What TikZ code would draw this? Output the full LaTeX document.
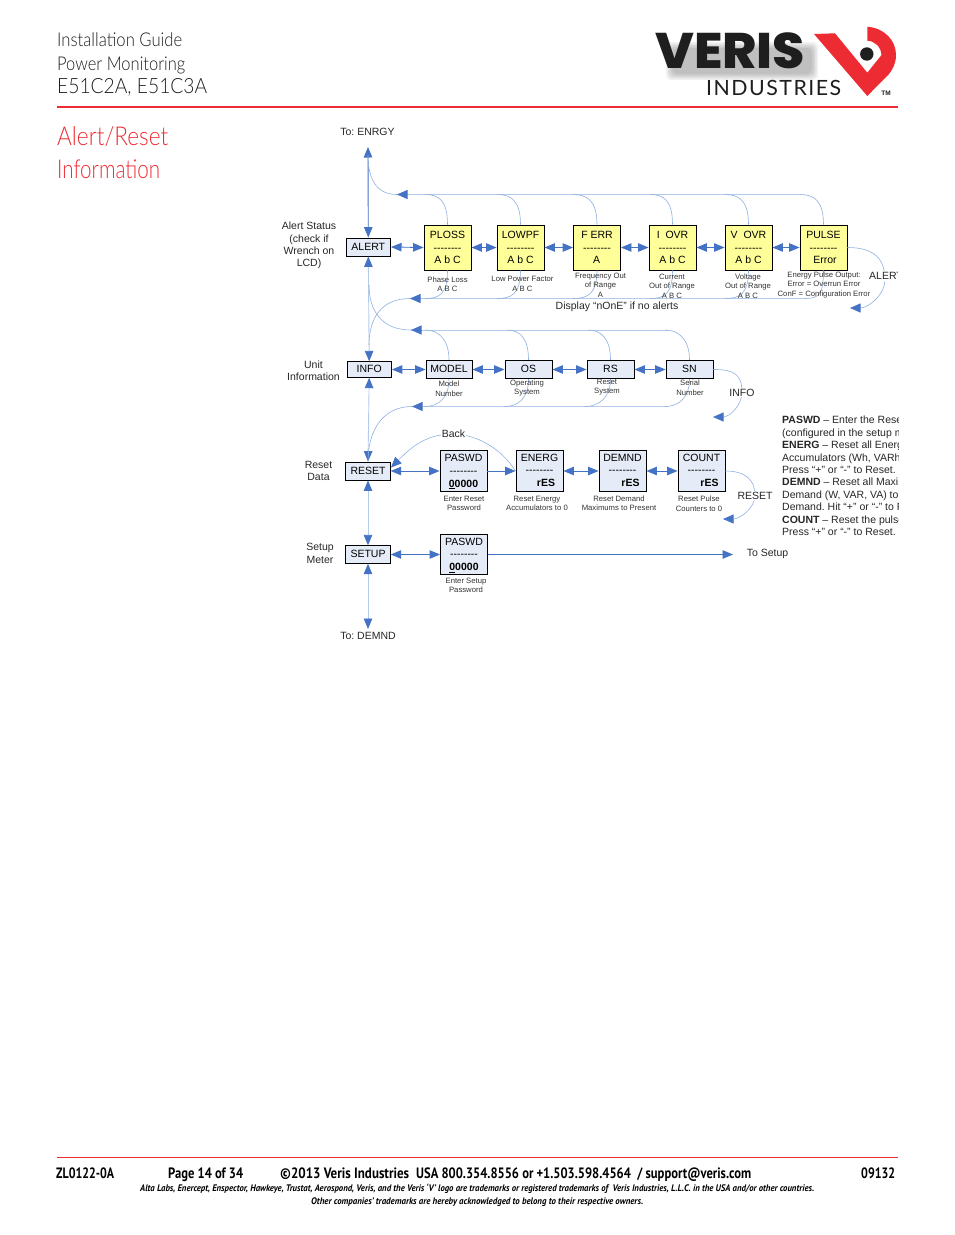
\documentclass[tikz,border=0pt]{standalone}
\usepackage{fontspec}
\usepackage{graphicx}
\usetikzlibrary{arrows.meta}
\setmainfont{Liberation Sans}[Ligatures=NoCommon]
\newfontfamily\hdr{Lato}[UprightFont=* Light]
\newfontfamily\logofont{Poppins}[UprightFont=* ExtraBold]
\newfontfamily\indfont{Lato}[LetterSpace=7]
\newfontfamily\footfont{PT Sans}[UprightFont=* Bold, ItalicFont=* Bold Italic]
\definecolor{vred}{HTML}{ED2B33}
\definecolor{vdark}{HTML}{1E1E1E}
\definecolor{vblue}{HTML}{4472C4}
\definecolor{vcurve}{HTML}{8FB0E0}
\definecolor{vlight}{HTML}{B4CBEC}
\definecolor{vyellow}{HTML}{FFFF99}
\definecolor{vbox}{HTML}{E6ECF7}
\newcommand\fitw[2]{\resizebox{#1pt}{\height}{#2}}
\newcommand\hyrow{-\kern0pt-\kern0pt-\kern0pt-\kern0pt-\kern0pt-\kern0pt-\kern0pt-}
\newcommand\upt[1]{\raisebox{1pt}{#1}}
\tikzset{
  big/.style={font=\fontsize{10.5}{12.3}\selectfont,inner sep=0pt,align=center,text=black!85},
  small/.style={font=\fontsize{7.7}{9.5}\selectfont,inner sep=0pt,align=center,text=black!80},
  onbg/.style={big,fill=white,inner sep=1pt},
  ybox/.style={draw=black,line width=0.9pt,fill=vyellow,inner sep=0pt,align=center,minimum width=47pt,minimum height=45pt,font=\fontsize{10.5}{12.5}\selectfont},
  bbox/.style={draw=black,line width=0.9pt,fill=vbox,inner sep=0pt,align=center,font=\fontsize{10.5}{12.7}\selectfont},
  tall/.style={bbox,minimum width=47pt,minimum height=40.5pt},
  flat/.style={bbox,minimum width=47pt,minimum height=18.5pt},
  left box/.style={bbox,minimum width=44.5pt,minimum height=18pt},
  dbl/.style={draw=vblue,line width=0.9pt,{Triangle[length=10.5pt,width=8.5pt,color=vblue]}-{Triangle[length=10.5pt,width=8.5pt,color=vblue]}},
  dbllight/.style={draw=vlight,line width=0.9pt,{Triangle[length=10.5pt,width=8.5pt,color=vblue]}-{Triangle[length=10.5pt,width=8.5pt,color=vblue]}},
  one/.style={draw=vblue,line width=0.9pt,-{Triangle[length=10.5pt,width=8.5pt,color=vblue]}},
  curve/.style={draw=vcurve,line width=0.6pt},
  railline/.style={draw=vlight,line width=0.8pt},
  railtip/.style={draw=vcurve,line width=0.6pt,-{Triangle[length=10.5pt,width=9pt,color=vblue]}},
  hd/.style={inner sep=0pt,anchor=base west,text=vdark},
  ttl/.style={inner sep=0pt,anchor=base west,text=vred},
  ft/.style={inner sep=0pt,anchor=base west,text=black}
}
\begin{document}
\frenchspacing
\begin{tikzpicture}[x=1pt,y=-1pt]
\useasboundingbox (0,0) rectangle (954,1235);

% ---- header
\node[hd,font=\hdr\fontsize{19}{19}\selectfont] (h1) at (57,46) {\fitw{125}{Installation Guide}};
\node[hd,font=\hdr\fontsize{19}{19}\selectfont] (h2) at (57,70) {\fitw{128}{Power Monitoring}};
\node[hd,font=\hdr\fontsize{21}{21}\selectfont] (h3) at (57,93) {\fitw{150}{E51C2A, E51C3A}};
\node[ttl,font=\hdr\fontsize{26}{26}\selectfont] (t1) at (57,145) {\fitw{111}{Alert/Reset}};
\node[ttl,font=\hdr\fontsize{26}{26}\selectfont] (t2) at (57,178) {\fitw{103}{Information}};
\coordinate (ruleAl) at (57,107); \coordinate (ruleAr) at (898,107);
\draw[vred,line width=1.3pt] (ruleAl) -- (ruleAr);

% ---- logo
\foreach \i in {0,1.5,3,4.5,6}{
  \fill[black,opacity=0.055,rounded corners=5pt] (672-\i,48-\i) rectangle (812+\i,74+\i);
}
\node[inner sep=0pt,anchor=base west,text=vdark,font=\logofont\fontsize{50}{50}\selectfont] (lg) at (655,68) {\fitw{150}{VERIS}};
\node[inner sep=0pt,anchor=base west,text=vdark,font=\indfont\fontsize{21}{21}\selectfont] (ind) at (706,95) {\fitw{135}{INDUSTRIES}};
\fill[vred] (814,34) -- (835,33.3) -- (867.3,72.7) -- (881.5,55)
  .. controls (881,47) and (875,41) .. (867.3,40.7) -- (867.3,26.7)
  .. controls (884,28) and (896,40) .. (896,55)
  .. controls (896,63) and (893,69) .. (889,74) -- (867.3,96) -- cycle;
\fill[vdark] (866.8,54) circle (6.7);
\node[inner sep=0pt,text=vdark,font=\fontsize{6.5}{6.5}\selectfont\bfseries] (tm) at (886,93.5) {TM};

% ---- boxes, first row
\node[left box] (alert) at (368.3,247) {ALERT};
\node[ybox] (ploss) at (447.5,247.5) {PLOSS\\\hyrow\\A b C};
\node[ybox] (lowpf) at (520.5,247.5) {LOWPF\\\hyrow\\A b C};
\node[ybox] (ferr) at (597,247.5) {F ERR\\\hyrow\\\hspace*{-1pt}A};
\node[ybox] (iovr) at (672.5,247.5) {I \ OVR\\\hyrow\\A b C};
\node[ybox] (vovr) at (748.5,247.5) {V \ OVR\\\hyrow\\A b C};
\node[ybox] (pulse) at (823.5,247.5) {PULSE\\\hyrow\\\hspace*{3pt}Error};
% second row
\node[left box,minimum height=15.5pt] (info) at (369.2,369.5) {\upt{INFO}};
\node[flat,minimum width=46pt] (model) at (449,369.5) {\upt{MODEL}};
\node[flat] (os) at (528.5,369.5) {\upt{OS}};
\node[flat] (rs) at (610.5,369.5) {\upt{RS}};
\node[flat] (sn) at (689.5,369.5) {\upt{SN}};
% third row
\node[left box] (reset) at (368,471) {\upt{RESET}};
\node[tall] (pasr) at (463.5,471) {\rule{0pt}{9pt}PASWD\\\hyrow\\\textbf{\underline{0}0000}};
\node[tall] (energ) at (539.5,471) {ENERG\\\hyrow\\\hspace*{13pt}\textbf{rES}\rule[-1.4pt]{0pt}{1pt}};
\node[tall] (demnd) at (622.5,471) {DEMND\\\hyrow\\\hspace*{16pt}\textbf{rES}\rule[-1.4pt]{0pt}{1pt}};
\node[tall] (count) at (701.5,471) {COUNT\\\hyrow\\\hspace*{16pt}\textbf{rES}\rule[-1.4pt]{0pt}{1pt}};
% fourth row
\node[left box,minimum height=17.5pt] (setup) at (368,554.5) {\upt{SETUP}};
\node[tall] (pass) at (464,554.5) {\rule{0pt}{9pt}PASWD\\\hyrow\\\textbf{\underline{0}0000}};

% ---- free ends
\coordinate (enrgy) at (368,147);
\coordinate (demndend) at (368,629);
\coordinate (tosetup) at (733,554.5);

% ---- straight links
\draw[dbl] (alert.north) -- (enrgy);
\draw[dbllight] (alert.south) -- (info.north);
\draw[dbllight] (info.south) -- (reset.north);
\draw[dbllight] (reset.south) -- (setup.north);
\draw[dbllight] (setup.south) -- (demndend);
\draw[dbl] (alert.east) -- (ploss.west);
\draw[dbl] (ploss.east) -- (lowpf.west);
\draw[dbl] (lowpf.east) -- (ferr.west);
\draw[dbl] (ferr.east) -- (iovr.west);
\draw[dbl] (iovr.east) -- (vovr.west);
\draw[dbl] (vovr.east) -- (pulse.west);
\draw[dbl] (info.east) -- (model.west);
\draw[dbl] (model.east) -- (os.west);
\draw[dbl] (os.east) -- (rs.west);
\draw[dbl] (rs.east) -- (sn.west);
\draw[dbl] (reset.east) -- (pasr.west);
\draw[one] (pasr.east) -- (energ.west);
\draw[dbl] (energ.east) -- (demnd.west);
\draw[dbl] (demnd.east) -- (count.west);
\draw[dbl] (setup.east) -- (pass.west);
\draw[one] (pass.east) -- (tosetup);

% ---- rails
\coordinate (railAtip) at (397,194.5); \coordinate (railAend) at (800,194.5);
\draw[railline] (railAend) -- (railAtip);
\draw[railtip] (407,194.5) -- (railAtip);
\draw[curve] (railAtip) .. controls +(-22,0) and +(0,22) .. (368,155);
\foreach \n/\x in {ploss/425,lowpf/497,ferr/573,iovr/650,vovr/725,pulse/800}{
  \coordinate (top\n) at (\x,194.5);
  \draw[curve] (\n.north) .. controls +(0,-24) and +(14,0) .. (top\n);
}
\coordinate (railBtip) at (410,298.5); \coordinate (railBend) at (805,298.5);
\draw[railline] (railBend) -- (railBtip);
\draw[railtip] (420,298.5) -- (railBtip);
\draw[curve] (railBtip) .. controls +(-30,0) and +(0,-25) .. (369,345);
\foreach \n/\x in {ploss/425,lowpf/497,ferr/573,iovr/650,vovr/725,pulse/805}{
  \coordinate (bot\n) at (\x,298.5);
  \draw[curve] (\n.south) .. controls +(0,24) and +(14,0) .. (bot\n);
}
\coordinate (railCtip) at (411,330); \coordinate (railCend) at (668,330);
\draw[railline] (railCend) -- (railCtip);
\draw[railtip] (421,330) -- (railCtip);
\draw[curve] (railCtip) .. controls +(-30,0) and +(0,25) .. (369,285);
\foreach \n/\x in {model/425,os/507,rs/588,sn/665}{
  \coordinate (tp\n) at (\x,330);
  \draw[curve] (\n.north) .. controls +(0,-20) and +(14,0) .. (tp\n);
}
\coordinate (railDtip) at (412,406.5); \coordinate (railDend) at (668,406.5);
\draw[railline] (railDend) -- (railDtip);
\draw[railtip] (422,406.5) -- (railDtip);
\draw[curve] (railDtip) .. controls +(-30,0) and +(0,-30) .. (reset.north);
\foreach \n/\x in {model/425,os/505,rs/585,sn/665}{
  \coordinate (bt\n) at (\x,406.5);
  \draw[curve] (\n.south) .. controls +(0,18) and +(14,0) .. (bt\n);
}

% ---- return curves
\coordinate (alertback) at (850,308);
\coordinate (infoback) at (713,417);
\coordinate (resetback) at (723,519);
\draw[railtip] (pulse.east) .. controls +(28,0) and +(0,-20) .. (885,280) .. controls +(0,15) and +(18,0) .. (alertback);
\draw[railtip] (sn.east) .. controls +(20,0) and +(0,-18) .. (742,392) .. controls +(0,14) and +(16,0) .. (infoback);
\draw[railtip] (count.east) .. controls +(20,0) and +(0,-15) .. (755,495) .. controls +(0,14) and +(16,0) .. (resetback);
\coordinate (backtop) at (452,434);
\coordinate (resetin) at (391,467.5);
\draw[curve] (energ.west) .. controls +(-14,-22) and +(25,0) .. (backtop);
\draw[railtip] (backtop) .. controls +(-28,0) and +(17,-17) .. (resetin);

% ---- labels
\node[big] (lA) at (367.5,131.5) {To: ENRGY};
\node[big] (lB) at (368,635.5) {To: DEMND};
\node[big] (lC) at (309,245.7) {Alert Status\\(check if\\Wrench on\\LCD)};
\node[big] (lD) at (313.5,371) {Unit\\Information};
\node[big] (lE) at (318.5,471) {Reset\\Data};
\node[big] (lF) at (320,553.5) {Setup\\Meter};
\node[big] (lG) at (617,307) {Display “nOnE” if no alerts};
\node[onbg] (lH) at (453.5,433.5) {Back};
\node[onbg] (lI) at (742,392.5) {INFO};
\node[onbg] (lJ) at (755,495.5) {RESET};
\node[big] (lK) at (767.5,554) {To Setup};
\begin{scope}
  \clip (860,265) rectangle (897,285);
  \node[onbg,anchor=west] (lL) at (868,276) {ALERT};
\end{scope}

\node[small] (s1) at (447.5,284) {Phase Loss\\A B C};
\node[small] (s2) at (522.5,284) {Low Power Factor\\A B C};
\node[small] (s3) at (600.5,285) {Frequency Out\\of Range\\A};
\node[small] (s4) at (672,286) {Current\\Out of Range\\A B C};
\node[small] (s5) at (748,286) {Voltage\\Out of Range\\A B C};
\node[small] (s6) at (824,285) {Energy Pulse Output:\\Error = Overrun Error\\ConF = Configuration Error};
\node[small] (s7) at (449,388.5) {Model\\Number};
\node[small] (s8) at (527,388) {Operating\\System};
\node[small] (s9) at (607,387) {Reset\\System};
\node[small] (s10) at (690,387.5) {Serial\\Number};
\node[small] (s11) at (464,503.3) {Enter Reset\\Password};
\node[small] (s12) at (537,503.3) {Reset Energy\\Accumulators to 0};
\node[small] (s13) at (619,503.3) {Reset Demand\\Maximums to Present};
\node[small] (s14) at (699,503.8) {Reset Pulse\\Counters to 0};
\node[small] (s15) at (466,585.3) {Enter Setup\\Password};

\begin{scope}
  \clip (775,410) rectangle (898,545);
  \node[anchor=north west,inner sep=0pt,align=left,text=black!85,font=\fontsize{10.5}{12.42}\selectfont] (notes) at (782,416) {%
    \textbf{PASWD} – Enter the Reset\\
    (configured in the setup menu\\
    \textbf{ENERG} – Reset all Energy\\
    Accumulators (Wh, VARh\\
    Press “+” or “-” to Reset.\\
    \textbf{DEMND} – Reset all Maximum\\
    Demand (W, VAR, VA) to\\
    Demand. Hit “+” or “-” to Reset\\
    \textbf{COUNT} – Reset the pulse\\
    Press “+” or “-” to Reset.};
\end{scope}

% ---- footer
\coordinate (ruleBl) at (57,1157); \coordinate (ruleBr) at (898,1157);
\draw[vred,line width=0.8pt] (ruleBl) -- (ruleBr);
\node[ft,font=\footfont\fontsize{15}{15}\selectfont] (f1) at (56,1178) {\fitw{58}{ZL0122-0A}};
\node[ft,font=\footfont\fontsize{15}{15}\selectfont] (f2) at (168,1178) {\fitw{75}{Page 14 of 34}};
\node[ft,font=\footfont\fontsize{15}{15}\selectfont] (f3) at (280,1178) {\fitw{129}{©2013 Veris Industries}};
\node[ft,font=\footfont\fontsize{15}{15}\selectfont] (f4) at (416,1178) {\fitw{335}{USA 800.354.8556 or +1.503.598.4564 \ / support@veris.com}};
\node[ft,font=\footfont\fontsize{15}{15}\selectfont] (f5) at (861,1178) {\fitw{34}{09132}};
\node[ft,font=\footfont\itshape\fontsize{9.5}{9.5}\selectfont] (f6) at (140,1191) {\fitw{674}{Alta Labs, Enercept, Enspector, Hawkeye, Trustat, Aerospond, Veris, and the Veris ‘V’ logo are trademarks or registered trademarks of \ Veris Industries, L.L.C. in the USA and/or other countries.}};
\node[ft,font=\footfont\itshape\fontsize{9.5}{9.5}\selectfont] (f7) at (311,1204) {\fitw{332}{Other companies’ trademarks are hereby acknowledged to belong to their respective owners.}};
\end{tikzpicture}
\end{document}
